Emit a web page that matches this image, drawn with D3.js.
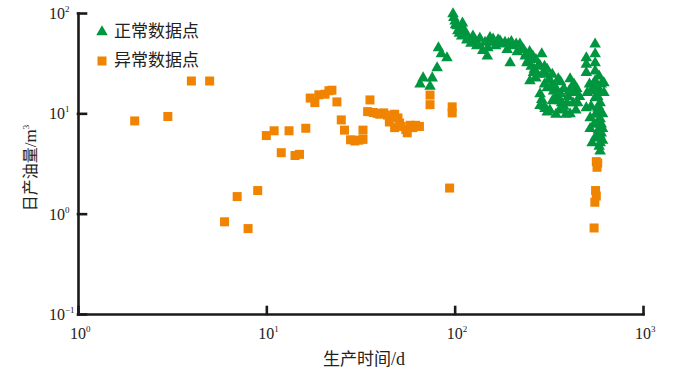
<!DOCTYPE html>
<html>
<head>
<meta charset="utf-8">
<script src="https://cdn.jsdelivr.net/npm/d3@7"></script>
<style>
  body { margin: 0; background: #fff; }
  svg { display: block; }
  .num { font-family: "Liberation Serif", "DejaVu Serif", serif; }
  .cjk { font-family: "Noto Sans CJK SC", sans-serif; }
</style>
</head>
<body>
<div id="chart"></div>
<script>
// production time (d), daily oil (m3) - normal points
var normalPts = [
  [65.5, 20], [68, 23], [74, 19], [76, 23], [80.7, 29], [82, 46], [85, 40], [91, 36.5],
  [98, 100], [100.5, 85], [103, 76], [107, 71], [110, 81], [114, 65], [118, 58], [122, 51],
  [131, 48], [136, 57], [141, 43], [149, 38], [154, 58], [160, 52], [160, 56], [174, 54],
  [185, 52], [193, 51], [203, 48], [212, 50], [222, 50], [232, 44], [242, 32.5], [257, 36.5],
  [197, 32.5], [290, 40], [284, 30.4], [262, 26], [251, 21.5], [270, 23], [330, 25], [355, 22.5],
  [410, 22.5], [310, 18.3], [284, 16], [284, 12.2], [302, 11.4], [363, 13.6], [375, 11.4],
  [410, 10.1], [436, 16.4], [450, 13], [350, 17], [330, 13.6], [320, 11], [390, 10], [300, 20],
  [340, 19], [380, 18], [400, 15], [420, 19], [460, 15], [365, 21], [295, 26], [315, 22],
  [99, 92], [101, 78], [104, 68], [106, 64], [109, 60], [112, 70], [116, 55],
  [125, 60], [128, 55], [133, 50], [145, 52], [150, 46], [165, 48], [170, 55], [178, 50],
  [190, 44], [200, 53], [215, 42], [228, 45], [240, 40], [250, 42], [260, 38], [270, 35], [280, 31],
  [237, 38], [245, 34], [255, 30], [265, 28], [275, 25], [300, 30], [305, 25], [310, 28],
  [320, 22], [325, 19], [335, 17], [345, 15], [355, 14], [365, 16], [370, 13], [380, 12],
  [395, 13], [405, 17], [425, 13], [440, 11], [290, 14], [300, 12], [310, 10.5], [345, 10],
  [360, 11], [430, 20], [445, 18],
  [557, 50], [557, 40], [500, 36.5], [557, 32.5], [500, 31.5], [500, 26], [557, 27], [557, 21.5],
  [620, 20.6], [620, 16.4], [506, 16.4], [440, 16.4], [557, 14.6], [592, 13], [500, 11.6],
  [592, 10.8], [524, 9.2], [592, 9], [524, 7.2], [610, 7.2], [537, 5.2], [592, 5.2], [592, 4.3],
  [577, 5.8], [610, 10.1], [570, 18], [580, 12], [545, 20], [585, 24], [600, 6.5], [565, 8],
  [520, 20], [540, 18], [560, 17], [575, 15], [590, 17], [600, 20], [530, 12], [560, 10],
  [575, 11.5], [550, 8], [580, 7], [560, 6], [600, 8], [590, 6.2], [585, 4.8], [610, 5.5]
];

// abnormal points
var abnormalPts = [
  [2.0, 8.4], [3.0, 9.3], [4.0, 21], [5.0, 21], [6.0, 0.83], [7.0, 1.48], [8.0, 0.71], [9.0, 1.7],
  [10, 6.0], [11, 6.7], [12, 4.05], [13.2, 6.7], [14.2, 3.8], [15, 3.9], [16.2, 7.1],
  [17.1, 14.2], [18.1, 12.8], [19, 15.3], [20.5, 15.5], [22.3, 17], [21.5, 16.8], [23.7, 13],
  [25, 8.6], [26, 6.8], [28, 5.45], [29.5, 5.3], [31, 5.4], [32.6, 5.5], [32.6, 6.8],
  [34.5, 10.4], [35.5, 13.6], [37, 10.2], [38.7, 10], [40, 9.8], [42, 10.1], [44, 9.6],
  [46, 9.3], [48, 9.8], [50, 9.0], [51, 8.0], [45, 8.2], [48, 7.2], [52, 7.4], [55, 6.9],
  [56, 6.4], [58, 7.6], [60, 7.2], [62, 7.6], [65, 7.4], [74, 15.2], [74, 12.2],
  [97, 11.6], [97, 10.1], [94, 1.8], [565, 3.3], [575, 3.2], [570, 2.9], [560, 1.7],
  [565, 1.5], [555, 1.3], [550, 0.72]
];

var xTicks = [1, 10, 100, 1000];
var xExp = ["0", "1", "2", "3"];
var yTicks = [0.1, 1, 10, 100];
var yExp = ["\u22121", "0", "1", "2"];
var legendNames = ["正常数据点", "异常数据点"];

var W = 681, H = 376;
var green = "#009640", orange = "#f08300";

var svg = d3.select("#chart").append("svg")
    .attr("width", W)
    .attr("height", H);

var x = d3.scaleLog().domain([1, 1000]).range([78, 643]);
var y = d3.scaleLog().domain([0.1, 100]).range([314, 13]);

// axes, ticks pointing inward
var gx = svg.append("g")
    .attr("transform", "translate(0," + y(0.1) + ")")
    .call(d3.axisBottom(x).tickValues(xTicks).tickSizeInner(-7).tickSizeOuter(0).tickFormat(""));
var gy = svg.append("g")
    .attr("transform", "translate(" + x(1) + ",0)")
    .call(d3.axisLeft(y).tickValues(yTicks).tickSizeInner(-8).tickSizeOuter(0).tickFormat(""));

svg.selectAll(".domain, .tick line")
    .attr("stroke", "#1a1a1a")
    .attr("stroke-width", 2.6)
    .attr("stroke-linecap", "square");

// tick labels 10^n
xTicks.forEach(function(t, i) {
  var tx = svg.append("text").attr("class", "num")
      .attr("x", x(t) - 8).attr("y", 339)
      .attr("font-size", 16).attr("fill", "#222");
  tx.append("tspan").text("10");
  tx.append("tspan").attr("dy", -7).attr("font-size", 9).text(xExp[i]);
});
yTicks.forEach(function(t, i) {
  var ty = svg.append("text").attr("class", "num")
      .attr("x", 49).attr("y", y(t) + 6)
      .attr("font-size", 16).attr("fill", "#222");
  ty.append("tspan").text("10");
  ty.append("tspan").attr("dy", -7).attr("font-size", 9).text(yExp[i]);
});

// axis titles
var xt = svg.append("text").attr("class", "cjk")
    .attr("x", 364).attr("y", 365)
    .attr("text-anchor", "middle")
    .attr("font-size", 17).attr("fill", "#222");
xt.append("tspan").text("生产时间");
xt.append("tspan").attr("class", "num").attr("font-size", 18).text("/d");

var yt = svg.append("text").attr("class", "cjk")
    .attr("transform", "translate(36,168) rotate(-90)")
    .attr("text-anchor", "middle")
    .attr("font-size", 16).attr("fill", "#222");
yt.append("tspan").text("日产油量");
yt.append("tspan").attr("class", "num").attr("font-size", 17).text("/m");
yt.append("tspan").attr("class", "num").attr("font-size", 9).attr("dy", -7).text("3");

// points
var tri = d3.symbol().type(d3.symbolTriangle).size(58);
svg.append("g").selectAll("path")
    .data(normalPts)
    .enter().append("path")
    .attr("d", tri)
    .attr("transform", function(d) { return "translate(" + x(d[0]) + "," + (y(d[1]) + 1) + ")"; })
    .attr("fill", green);

svg.append("g").selectAll("rect")
    .data(abnormalPts)
    .enter().append("rect")
    .attr("x", function(d) { return x(d[0]) - 4.5; })
    .attr("y", function(d) { return y(d[1]) - 4.5; })
    .attr("width", 9)
    .attr("height", 9)
    .attr("fill", orange);

// legend
var leg = svg.append("g");
leg.append("path").attr("d", tri).attr("transform", "translate(102,32)").attr("fill", green);
leg.append("rect").attr("x", 97.5).attr("y", 56.5).attr("width", 9).attr("height", 9).attr("fill", orange);
leg.selectAll("text")
    .data(legendNames)
    .enter().append("text")
    .attr("class", "cjk")
    .attr("x", 114)
    .attr("y", function(d, i) { return 37 + i * 29; })
    .attr("font-size", 17)
    .attr("fill", "#222")
    .text(function(d) { return d; });
</script>
</body>
</html>
